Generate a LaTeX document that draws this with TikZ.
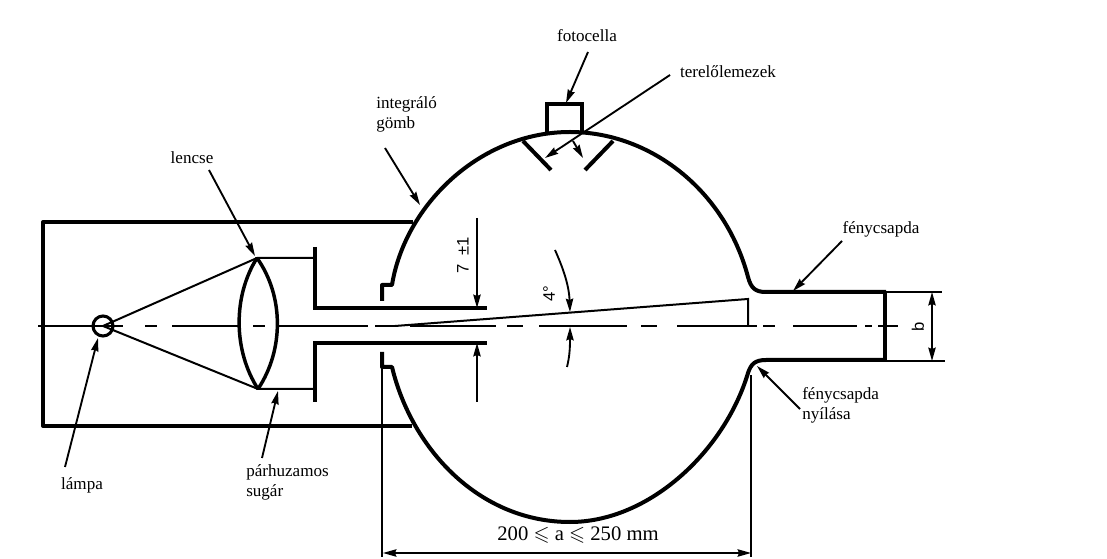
\documentclass[tikz,border=0pt]{standalone}
\usepackage{amssymb}
\usepackage{fontspec}
\setmainfont{Liberation Serif}
\newfontfamily\dimfont{Liberation Sans}
\usetikzlibrary{arrows.meta}
\tikzset{
  wall/.style={line width=3pt},
  plate/.style={line width=2.6pt},
  thin line/.style={line width=1.5pt},
  axis line/.style={line width=1.4pt},
  leader/.style={line width=1.4pt,-{Stealth[length=10pt,width=5.5pt,inset=1pt]}},
  dimline/.style={line width=1.3pt,{Stealth[length=10pt,width=5.5pt,inset=1pt]}-{Stealth[length=10pt,width=5.5pt,inset=1pt]}},
  lbl/.style={font=\fontsize{12.8}{15}\selectfont,inner sep=0pt,align=left},
  dimlbl/.style={font=\dimfont\fontsize{12.5}{14}\selectfont,inner sep=0pt,rotate=90},
}
\begin{document}
\begin{tikzpicture}[x=.75pt,y=-.75pt]
  \useasboundingbox (0,0) rectangle (1107,559);

  % cimkek
  \node[lbl] (fotocella) at (587,36) {fotocella};
  \node[lbl] (terelo) at (728,72) {terelőlemezek};
  \node[lbl,anchor=west] (gomb) at (376,114) {integráló\\gömb};
  \node[lbl] (lencse) at (192,158) {lencse};
  \node[lbl] (csapda) at (881,229) {fénycsapda};
  \node[lbl,anchor=west] (nyilas) at (802,405) {fénycsapda\\nyílása};
  \node[lbl] (lampa) at (82,485) {lámpa};
  \node[lbl,anchor=west] (sugar) at (246,482) {párhuzamos\\sugár};
  \node[lbl,font=\fontsize{15.5}{17}\selectfont] (meret) at (578,535) {200 $\leqslant$ a $\leqslant$ 250 mm};
  \node[dimlbl] (het) at (463,255) {7\enskip ±1};
  \node[dimlbl] (fok) at (549,294) {4°};
  \node[dimlbl] (bmeret) at (918,327) {b};

  % haz
  \draw[wall,line join=round] (413,222) -- (43,222) -- (43,426) -- (412,426);

  % lampa es lencse
  \node[draw,circle,line width=2.3pt,minimum size=15pt,inner sep=0pt] (izzo) at (103,326) {};
  \coordinate (lenstop) at (257,258);
  \coordinate (lensbot) at (258,389);
  \draw[plate] (lenstop) .. controls (233,296) and (233,350) .. (lensbot);
  \draw[plate] (lenstop) .. controls (284,296) and (284,350) .. (lensbot);
  \draw[thin line] (izzo.center) -- (lenstop) -- (315,258);
  \draw[thin line] (izzo.center) -- (lensbot) -- (315,389);

  % blendek
  \draw[plate] (315,247) -- (315,308) -- (487,308);
  \draw[plate] (315,402) -- (315,343) -- (487,343);

  % gomb
  \draw[wall,line join=round] (382,301) -- (382,285) -- (392,285)
    .. controls (405,205) and (480,132) .. (570,132)
    .. controls (650,132) and (725,190) .. (748,277)
    .. controls (751,288) and (755,292) .. (766,292) -- (886,292);
  \draw[wall,line join=round] (382,352) -- (382,367) -- (392,367)
    .. controls (412,450) and (480,522) .. (570,522)
    .. controls (650,522) and (725,450) .. (748,373)
    .. controls (751,364) and (755,360) .. (766,360) -- (886,360);
  \draw[wall] (885,292) -- (885,360);
  \draw[thin line] (886,292) -- (942,292) (886,361) -- (945,361);

  % fotocella
  \draw[wall] (547,132) -- (547,104) -- (582,104) -- (582,132);
  \draw[wall] (523,141) -- (551,170);
  \draw[wall] (613,141) -- (585,170);

  % tengely
  \foreach \xa/\xb in {38/123,145/157,172/238,253/265,278/368,375/398,410/496,507/523,539/627,641/657,677/757,763/775,793/857,865/872,878/898}
    \draw[axis line] (\xa,326) -- (\xb,326);
  \draw[thin line] (395,326) -- (748,299) -- (748,326);

  % nyilak
  \draw[leader] (588,52) -- (566,103);
  \draw[leader] (670,75) -- (545,158);
  \draw[leader] (573,141) -- (583,158);
  \draw[leader] (385,148) -- (420,205);
  \draw[leader] (209,170) -- (255,256);
  \draw[leader] (65,467) -- (98,338);
  \draw[leader] (262,458) -- (278,391);
  \draw[leader] (842,241) -- (793,291);
  \draw[leader] (800,409) -- (757,366);

  % meretek
  \draw[thin line] (382,367) -- (382,557) (751,375) -- (751,557);
  \draw[dimline] (383,553) -- (751,553);
  \draw[leader] (477,218) -- (477,308);
  \draw[leader] (477,402) -- (477,343);
  \draw[dimline] (932,292) -- (932,361);
  \draw[leader] (555,250) .. controls (563,268) and (569,285) .. (570,312);
  \draw[leader] (567,367) .. controls (570,355) and (570,345) .. (570,327);
\end{tikzpicture}
\end{document}
